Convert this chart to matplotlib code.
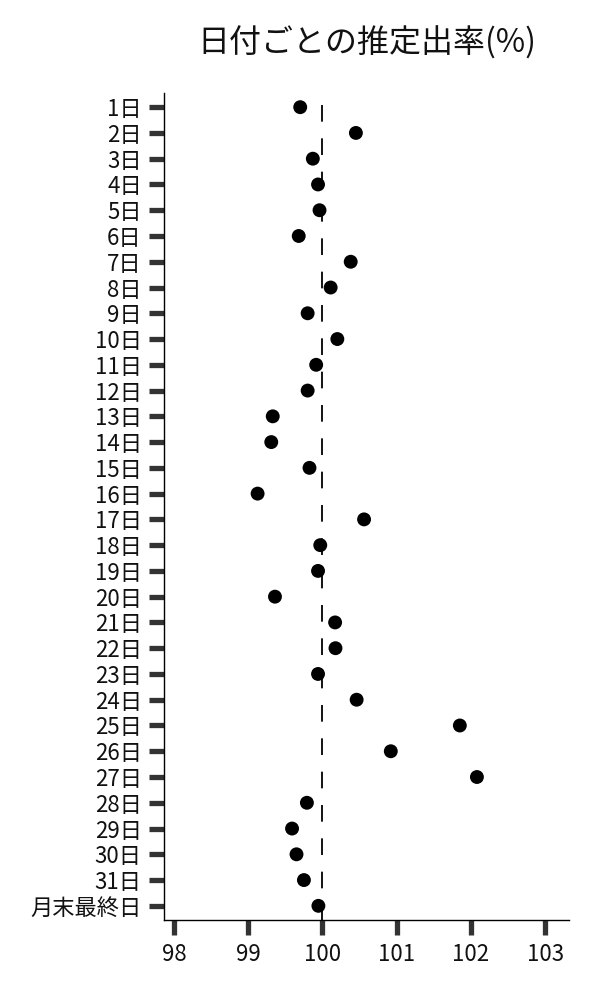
import matplotlib
matplotlib.use("Agg")
import matplotlib.pyplot as plt

plt.rcParams['font.family'] = ['Noto Sans CJK JP', 'DejaVu Sans']
plt.rcParams['lines.scale_dashes'] = False

categories = [f"{d}日" for d in range(1, 32)] + ["月末最終日"]
values = [99.70, 100.45, 99.87, 99.94, 99.96, 99.68, 100.38, 100.11, 99.80, 100.20,
          99.915, 99.80, 99.33, 99.31, 99.825, 99.126, 100.56, 99.97, 99.94, 99.36,
          100.17, 100.175, 99.94, 100.46, 101.85, 100.92, 102.08, 99.79, 99.59, 99.65,
          99.75, 99.945]
xticks = [98, 99, 100, 101, 102, 103]
title = "日付ごとの推定出率(%)"
ref_value = 100

fig = plt.figure(figsize=(6, 10), dpi=100)
ax = fig.add_axes([0.2733, 0.08, 0.675, 0.827])

ypos = list(range(len(categories)))
ax.plot([ref_value, ref_value], [-0.08, len(categories) - 0.45], color='black',
        linewidth=1.3, dashes=(12, 12), zorder=1)
ax.scatter(values, ypos, s=100, color='black', zorder=3, edgecolors='none')

ax.set_ylim(len(categories) - 0.45, -0.55)
ax.set_xlim(97.865, 103.32)
ax.set_yticks(ypos)
ax.set_yticklabels(categories)
ax.set_xticks(xticks)
ax.set_xticklabels([str(x) for x in xticks])

for s in ['top', 'right']:
    ax.spines[s].set_visible(False)
for s in ['left', 'bottom']:
    ax.spines[s].set_linewidth(1.0)
    ax.spines[s].set_color('black')

ax.tick_params(axis='both', direction='out', length=10.5, width=3.8, color='#333333',
               labelcolor='#111111')
ax.tick_params(axis='y', pad=5.5, labelsize=16)
ax.tick_params(axis='x', pad=6, labelsize=16)

fig.text(0.611, 0.957, title, ha='center', va='center', fontsize=23, color='#111111')

fig.savefig('out.png', dpi=100)
